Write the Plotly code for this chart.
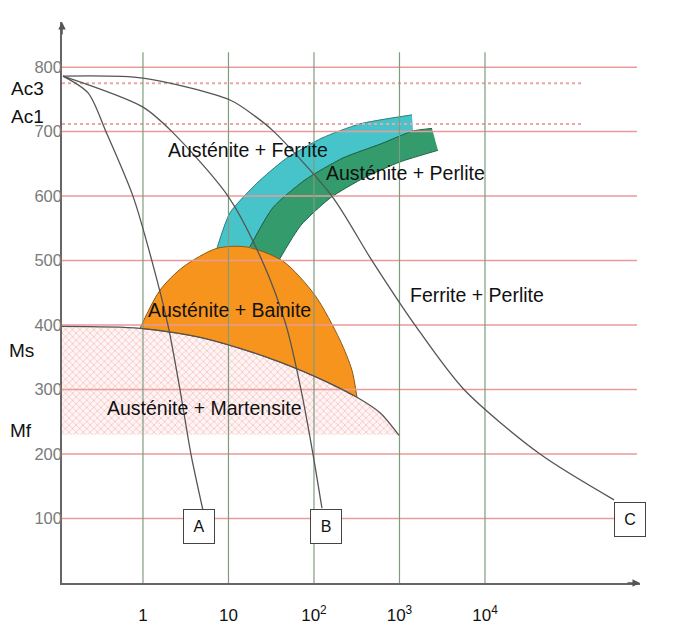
import numpy as np
import plotly.graph_objects as go

# ---------------- data ----------------
temp_levels = [100, 200, 300, 400, 500, 600, 700, 800]
decades = [1, 10, 100, 1000, 10000]
decade_labels = ["1", "10", "10<sup>2</sup>", "10<sup>3</sup>", "10<sup>4</sup>"]
Ac3_T = 775
Ac1_T = 712
Mf_T = 230

# cooling curves (time s, temperature °C)
curveA_t = [0.116, 0.228, 0.369, 0.764, 1.27, 1.96, 2.71, 3.64, 5.03]
curveA_T = [786, 760, 700, 600, 500, 400, 300, 200, 113]

curveB_t = [0.116, 1.0, 2.18, 9.86, 24.7, 47.1, 70.5, 97.3, 124]
curveB_T = [786, 738, 700, 600, 500, 400, 300, 200, 116]

curveC_t = [0.116, 1.0, 10.4, 20.4, 34.0, 162, 477, 1517, 5680, 44000, 323000]
curveC_T = [786, 783, 749, 724, 700, 600, 500, 400, 300, 200, 129]

# martensite start curve
ms_t = [0.113, 0.923, 4.64, 28.2, 108, 318, 592, 986]
ms_T = [398, 395, 381, 350, 319, 288, 264, 229]

# bainite nose (upper boundary)
bain_t = [0.923, 1.58, 2.94, 7.33, 16.4, 43.4, 103, 201, 278, 318]
bain_T = [395, 454, 490, 519, 521, 499, 446, 377, 330, 288]

# ferrite band (outer edge, and edge shared with pearlite band)
ferr_out_t = [7.33, 10.4, 21.5, 45.8, 124, 345, 1400]
ferr_out_T = [519, 574, 620, 657, 690, 712, 726]
shared_t = [17.8, 33.1, 78.5, 218, 608, 1439]
shared_T = [521, 582, 625, 659, 681, 701]

# pearlite band
perl_out_t = [17.8, 33.1, 78.5, 218, 608, 1439, 2399]
perl_out_T = [521, 582, 625, 659, 681, 701, 705]
perl_in_t = [37.9, 70.5, 158, 394, 1014, 2818]
perl_in_T = [498, 555, 598, 629, 653, 671]

# axis extents
t_min, t_max = 0.113, 650000
T_max = 870
red_end_t = 600000
dash_end_t = 140000
vline_top = 823

FONT = "Arial, Liberation Sans, sans-serif"
SPL = dict(shape="spline", smoothing=0.8)

fig = go.Figure()

def edge(xs, ys, color="rgba(0,0,0,0)", width=1.0, fill=None, fillcolor=None, pattern=None,
         smoothing=0.8):
    kw = dict(x=xs, y=ys, mode="lines", hoverinfo="skip",
              line=dict(color=color, width=width, shape="spline", smoothing=smoothing))
    if fill:
        kw["fill"] = fill
        kw["fillcolor"] = fillcolor
    if pattern:
        kw["fillpattern"] = pattern
    fig.add_trace(go.Scatter(**kw))

# hatched martensite region (between Mf level and Ms curve)
edge([ms_t[0], ms_t[-1]], [Mf_T, Mf_T], width=0)
edge(ms_t, ms_T, width=0, fill="tonexty", fillcolor="#fff1f1",
     pattern=dict(shape="x", fgcolor="#ec9696", bgcolor="#fff4f4", size=5, solidity=0.3))

# ferrite band
edge(shared_t, shared_T, color="#2b7f82", smoothing=0.6)
edge(ferr_out_t, ferr_out_T, color="#2b7f82", fill="tonexty", fillcolor="#46c4c9", smoothing=0.6)

# pearlite band
edge(perl_in_t, perl_in_T, color="#1f6447", smoothing=0.6)
edge(perl_out_t, perl_out_T, color="#1f6447", fill="tonexty", fillcolor="#339b6c", smoothing=0.6)

# bainite region
edge(ms_t[1:6], ms_T[1:6], color="#8a5a12")
edge(bain_t, bain_T, color="#8a5a12", fill="tonexty", fillcolor="#f7941e")

# red horizontal lines
rx, ry = [], []
for T in temp_levels:
    rx += [t_min, red_end_t, None]
    ry += [T, T, None]
fig.add_trace(go.Scatter(x=rx, y=ry, mode="lines",
                         line=dict(color="#eb9a9a", width=1.5), hoverinfo="skip"))

# Ac3 / Ac1 dotted lines
for T in (Ac3_T, Ac1_T):
    fig.add_trace(go.Scatter(x=[t_min, dash_end_t], y=[T, T], mode="lines",
                             line=dict(color="#f0a4a4", width=2, dash="dot"), hoverinfo="skip"))

# green vertical lines
vx, vy = [], []
for d in decades:
    vx += [d, d, None]
    vy += [0, vline_top, None]
fig.add_trace(go.Scatter(x=vx, y=vy, mode="lines",
                         line=dict(color="#7f9c7f", width=1.2), hoverinfo="skip"))

# curves
for xs, ys in ((curveA_t, curveA_T), (curveB_t, curveB_T), (curveC_t, curveC_T), (ms_t, ms_T)):
    fig.add_trace(go.Scatter(x=xs, y=ys, mode="lines",
                             line=dict(color="#555555", width=1.3, **SPL),
                             hoverinfo="skip"))

ann = []
def region(text, t, T):
    ann.append(dict(x=np.log10(t), y=T, xref="x", yref="y", text=text, showarrow=False,
                    font=dict(family=FONT, size=19.5, color="#111111")))

region("Austénite + Ferrite", 16.9, 671)
region("Austénite + Perlite", 1190, 636)
region("Austénite + Bainite", 10.4, 423)
region("Austénite + Martensite", 5.3, 271)
region("Ferrite + Perlite", 8050, 447)

def box(text, t, T):
    ann.append(dict(x=np.log10(t), y=T, xref="x", yref="y", text=text, showarrow=False,
                    font=dict(family=FONT, size=16, color="#111111"),
                    bordercolor="#444444", borderwidth=1, borderpad=1, bgcolor="white",
                    width=28, height=31))

box("A", 4.52, 87)
box("B", 138, 87)
box("C", 497000, 98)

PW = 578  # plot width in px
def side(text, px, T, size=19):
    ann.append(dict(x=(px - 62) / PW, y=T, xref="paper", yref="y", text=text, showarrow=False,
                    xanchor="left", font=dict(family=FONT, size=size, color="#111111")))

side("Ac3", 9, 767)
side("Ac1", 9, 724)
side("Ms", 7, 361)
side("Mf", 8, 236)

ann.append(dict(x=(50 - 62) / PW, y=876, xref="paper", yref="y", text="°C", showarrow=False,
                font=dict(family=FONT, size=12, color="#333333")))
ann.append(dict(x=(666 - 62) / PW, y=-11, xref="paper", yref="y", text="t(s)", showarrow=False,
                font=dict(family=FONT, size=17, color="#111111")))

# axis arrowheads
ann.append(dict(x=np.log10(t_max), y=0, xref="x", yref="y", ax=-14, ay=0, text="",
                showarrow=True, arrowhead=2, arrowsize=1, arrowwidth=1.5, arrowcolor="#555555"))
ann.append(dict(x=np.log10(t_min), y=T_max, xref="x", yref="y", ax=0, ay=14, text="",
                showarrow=True, arrowhead=2, arrowsize=1, arrowwidth=1.5, arrowcolor="#555555"))

# the page body adds an 8px margin, so the figure is 672x616
fig.update_layout(
    width=672, height=616,
    margin=dict(l=54, r=40, t=14, b=41, autoexpand=False),
    paper_bgcolor="white", plot_bgcolor="white",
    showlegend=False,
    annotations=ann,
    xaxis=dict(type="log", range=[np.log10(t_min), np.log10(t_max)],
               tickvals=decades, ticktext=decade_labels, ticks="",
               tickfont=dict(family=FONT, size=17, color="#111111"),
               ticklabelstandoff=16, automargin=False,
               showline=True, linecolor="#666666", linewidth=1.5,
               showgrid=False, zeroline=False),
    yaxis=dict(range=[0, T_max], tickvals=temp_levels, ticks="",
               tickfont=dict(family=FONT, size=16.5, color="#7a7a7a"),
               ticklabelstandoff=-5, automargin=False,
               showline=True, linecolor="#666666", linewidth=1.5,
               showgrid=False, zeroline=False),
)

fig.write_html("out.html")
